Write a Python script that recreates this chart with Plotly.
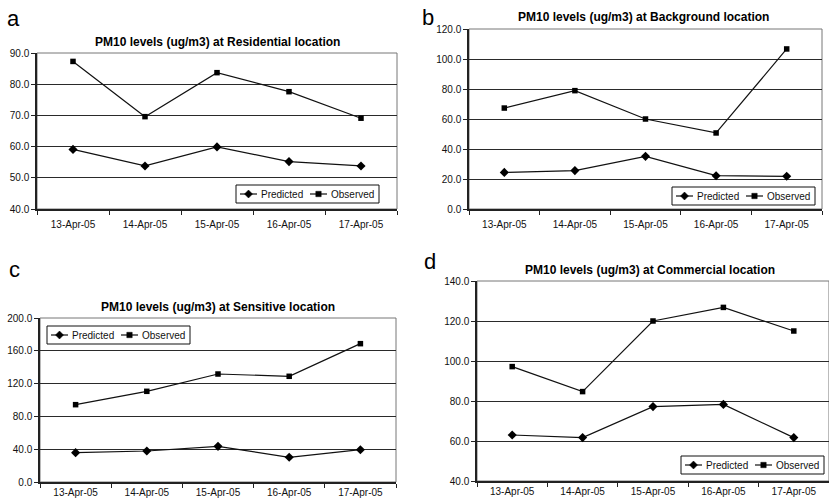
import plotly.graph_objects as go

# Sampling days
dates = ["13-Apr-05", "14-Apr-05", "15-Apr-05", "16-Apr-05", "17-Apr-05"]

# PM10 (ug/m3) per monitoring site
residential_pred = [59.1, 53.8, 59.9, 55.2, 53.8]
residential_obs = [87.3, 69.6, 83.7, 77.6, 69.1]

background_pred = [24.4, 25.6, 35.1, 22.2, 21.8]
background_obs = [67.3, 78.9, 60.0, 50.7, 106.7]

sensitive_pred = [35.8, 37.8, 43.5, 30.1, 39.4]
sensitive_obs = [94.3, 110.6, 131.7, 128.9, 168.7]

commercial_pred = [63.0, 61.7, 77.2, 78.3, 61.7]
commercial_obs = [97.2, 84.7, 120.0, 126.8, 115.0]

series_names = ["Predicted", "Observed"]
series_symbols = ["diamond", "square"]

W, H = 829, 499
FONT = "Liberation Sans, Arial, sans-serif"
INK = "#111111"


def px_x(v):
    return v / W


def px_y(v):
    return 1 - v / H


panels = [
    dict(tag="a", site="Residential", values=[residential_pred, residential_obs],
         x=(37, 397), y=(53, 209), yr=(40, 90), dt=10, standoff=5,
         title=(217, 42), label=(13, 18), leg=(236, 185)),
    dict(tag="b", site="Background", values=[background_pred, background_obs],
         x=(469, 822), y=(29, 209), yr=(0, 120), dt=20, standoff=5,
         title=(643, 17), label=(428, 17), leg=(672, 187)),
    dict(tag="c", site="Sensitive", values=[sensitive_pred, sensitive_obs],
         x=(40, 396), y=(318, 482), yr=(0, 200), dt=40, standoff=0,
         title=(218, 307), label=(14, 269), leg=(47, 326)),
    dict(tag="d", site="Commercial", values=[commercial_pred, commercial_obs],
         x=(477, 829), y=(281, 481), yr=(40, 140), dt=20, standoff=0,
         title=(650, 270), label=(430, 261), leg=(681, 456)),
]


def legend_key(shapes, annotations, left, top):
    """Boxed, one-row key: short line with the series marker, then its name."""
    h = 18
    shapes.append(dict(type="rect", xref="paper", yref="paper",
                       x0=px_x(left), x1=px_x(left + 143),
                       y0=px_y(top + h), y1=px_y(top),
                       line=dict(color=INK, width=1), fillcolor="#ffffff",
                       layer="above"))
    mid = top + h / 2
    for k, (name, sym) in enumerate(zip(series_names, series_symbols)):
        x0 = left + 4 + 70 * k
        shapes.append(dict(type="line", xref="paper", yref="paper",
                           x0=px_x(x0), x1=px_x(x0 + 17),
                           y0=px_y(mid), y1=px_y(mid),
                           line=dict(color=INK, width=1.2), layer="above"))
        cx = x0 + 8.5
        if sym == "diamond":
            r = 4
            path = "M %f %f L %f %f L %f %f L %f %f Z" % (
                px_x(cx - r), px_y(mid), px_x(cx), px_y(mid - r),
                px_x(cx + r), px_y(mid), px_x(cx), px_y(mid + r))
            shapes.append(dict(type="path", xref="paper", yref="paper",
                               path=path, fillcolor="#000000",
                               line=dict(color="#000000", width=0.5),
                               layer="above"))
        else:
            r = 2.7
            shapes.append(dict(type="rect", xref="paper", yref="paper",
                               x0=px_x(cx - r), x1=px_x(cx + r),
                               y0=px_y(mid + r), y1=px_y(mid - r),
                               fillcolor="#000000",
                               line=dict(color="#000000", width=0.5),
                               layer="above"))
        annotations.append(dict(
            text=name, x=px_x(x0 + 19), y=px_y(mid + 0.5),
            xref="paper", yref="paper", xanchor="left", yanchor="middle",
            showarrow=False,
            font=dict(family=FONT, size=10, color=INK),
        ))


fig = go.Figure()
shapes = []
annotations = []
layout_axes = {}

for i, p in enumerate(panels, start=1):
    sfx = "" if i == 1 else str(i)
    xa, ya = "x" + sfx, "y" + sfx

    for name, sym, vals in zip(series_names, series_symbols, p["values"]):
        fig.add_trace(go.Scatter(
            x=dates, y=vals, name=name, mode="lines+markers",
            xaxis=xa, yaxis=ya, showlegend=False,
            line=dict(color=INK, width=1.2),
            marker=dict(symbol=sym, size=7 if sym == "diamond" else 5.5,
                        color="#000000"),
        ))

    layout_axes["xaxis" + sfx] = dict(
        domain=[px_x(p["x"][0]), px_x(p["x"][1])],
        anchor=ya, type="category", range=[-0.5, 4.5],
        showgrid=False, zeroline=False, automargin=False,
        showline=True, linecolor="#222222", linewidth=1.5,
        ticks="outside", tickson="boundaries", ticklen=4,
        tickcolor="#222222", tickwidth=1.2,
        ticklabelstandoff=p["standoff"],
        tickfont=dict(family=FONT, size=10, color=INK),
        fixedrange=True,
    )
    layout_axes["yaxis" + sfx] = dict(
        domain=[px_y(p["y"][1]), px_y(p["y"][0])],
        anchor=xa, range=list(p["yr"]), dtick=p["dt"], tick0=0,
        tickformat=".1f", automargin=False,
        showgrid=True, gridcolor="#2a2a2a", gridwidth=1.2,
        zeroline=False,
        showline=True, linecolor="#222222", linewidth=1.5,
        ticks="outside", ticklen=4, tickcolor="#222222", tickwidth=1.2,
        tickfont=dict(family=FONT, size=10, color=INK),
        fixedrange=True,
    )

    # plot-area frame
    shapes.append(dict(
        type="rect", xref=xa + " domain", yref=ya + " domain",
        x0=0, x1=1, y0=0, y1=1, line=dict(color="#777777", width=1),
        layer="below",
    ))

    annotations.append(dict(
        text="PM10 levels (ug/m3) at %s location" % p["site"],
        x=px_x(p["title"][0]), y=px_y(p["title"][1]),
        xref="paper", yref="paper", xanchor="center", yanchor="middle",
        showarrow=False,
        font=dict(family=FONT, size=12, color="#000000", weight="bold"),
    ))
    annotations.append(dict(
        text=p["tag"],
        x=px_x(p["label"][0]), y=px_y(p["label"][1]),
        xref="paper", yref="paper", xanchor="center", yanchor="middle",
        showarrow=False,
        font=dict(family=FONT, size=22, color="#000000"),
    ))

    legend_key(shapes, annotations, *p["leg"])

fig.update_layout(
    width=W, height=H,
    margin=dict(l=0, r=0, t=0, b=0),
    paper_bgcolor="#ffffff", plot_bgcolor="#ffffff",
    showlegend=False,
    shapes=shapes, annotations=annotations,
    **layout_axes,
)

fig.write_html("out.html")
